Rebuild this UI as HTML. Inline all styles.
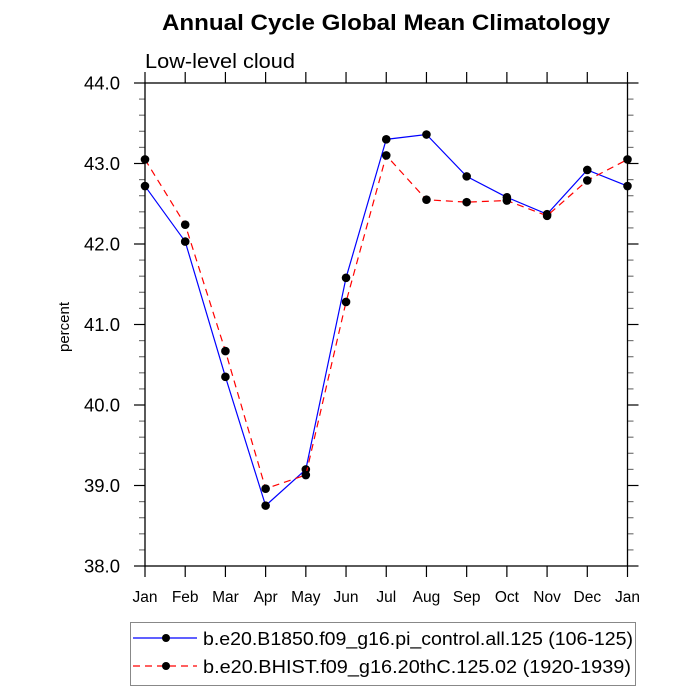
<!DOCTYPE html>
<html><head><meta charset="utf-8"><style>body{margin:0;background:#fff}svg{display:block}</style></head>
<body>
<svg id="chart" width="700" height="700" xmlns="http://www.w3.org/2000/svg" font-family="Liberation Sans, sans-serif">
<text x="162" y="30" font-size="22" font-weight="bold" textLength="448" lengthAdjust="spacingAndGlyphs">Annual Cycle Global Mean Climatology</text>
<text x="145" y="68" font-size="20" textLength="150" lengthAdjust="spacingAndGlyphs">Low-level cloud</text>
<text transform="translate(69,327) rotate(-90)" text-anchor="middle" font-size="15">percent</text>
<g id="ticks"></g>
<g id="series"></g>
<rect x="145" y="83" width="482.5" height="483" fill="none" stroke="#000" stroke-width="1.3"/>
<g>
<rect x="130.5" y="622.5" width="505" height="63" fill="none" stroke="#888" stroke-width="1"/>
<line x1="133" y1="638" x2="197" y2="638" stroke="#00f" stroke-width="1.2"/>
<circle cx="166" cy="638" r="4" fill="#000"/>
<text x="203" y="645" font-size="18" textLength="430" lengthAdjust="spacingAndGlyphs">b.e20.B1850.f09_g16.pi_control.all.125 (106-125)</text>
<line x1="133" y1="666" x2="197" y2="666" stroke="#f00" stroke-width="1.2" stroke-dasharray="7,5"/>
<circle cx="166" cy="666" r="4" fill="#000"/>
<text x="203" y="673" font-size="18" textLength="428" lengthAdjust="spacingAndGlyphs">b.e20.BHIST.f09_g16.20thC.125.02 (1920-1939)</text>
</g>
</svg>
<script>
const months = ["Jan","Feb","Mar","Apr","May","Jun","Jul","Aug","Sep","Oct","Nov","Dec","Jan"];
const yTicks = [38,39,40,41,42,43,44];
const yTickLabels = ["38.0","39.0","40.0","41.0","42.0","43.0","44.0"];
const blueValues = [42.72,42.03,40.35,38.75,39.2,41.58,43.3,43.36,42.84,42.58,42.37,42.92,42.72];
const redValues = [43.05,42.24,40.67,38.96,39.13,41.28,43.1,42.55,42.52,42.54,42.35,42.79,43.05];

const NS="http://www.w3.org/2000/svg";
const X0=145,X1=627.5,Y0=566,Y1=83,YMIN=38,YMAX=44;
function xs(i){return X0+(X1-X0)*i/(months.length-1);}
function ys(v){return Y0-(Y0-Y1)*(v-YMIN)/(YMAX-YMIN);}
function mk(tag,attrs,parent){const e=document.createElementNS(NS,tag);for(const k in attrs)e.setAttribute(k,attrs[k]);parent.appendChild(e);return e;}
const tg=document.getElementById('ticks');
months.forEach((m,i)=>{
  const x=xs(i);
  const t=mk('line',{x1:x,y1:Y0,x2:x,y2:Y0+11,stroke:'#000','stroke-width':1.2},tg);
  
  
  const t2=mk('line',{x1:x,y1:Y1,x2:x,y2:Y1-11,stroke:'#000','stroke-width':1.2},tg);
  
  
  const l=mk('text',{x:x,y:602,'text-anchor':'middle','font-size':15.5},tg);
  l.textContent=m;
  
  
});
for(let v=YMIN;v<=YMAX+1e-9;v+=0.2){
  const major=Math.abs(v-Math.round(v))<1e-6;
  const y=ys(v);const len=major?11:6;
  const a=mk('line',{x1:X0,y1:y,x2:X0-len,y2:y,stroke:major?'#000':'#777','stroke-width':1.2},tg);
  
  
  const b=mk('line',{x1:X1,y1:y,x2:X1+len,y2:y,stroke:major?'#000':'#777','stroke-width':1.2},tg);
  
  
}
yTicks.forEach((v,i)=>{
  const l=mk('text',{x:120,y:ys(v)+6.5,'text-anchor':'end','font-size':18.5},tg);
  l.textContent=yTickLabels[i];
  
  
});
const sg=document.getElementById('series');
function draw(vals,color,dash,name){
  const p=mk('polyline',{points:vals.map((v,i)=>xs(i)+','+ys(v)).join(' '),fill:'none',stroke:color,'stroke-width':1.2,'stroke-dasharray':dash},sg);
  
  
  vals.forEach((v,i)=>{
    const c=mk('circle',{cx:xs(i),cy:ys(v),r:4.3,fill:'#000'},sg);
    
    
  });
}
draw(blueValues,'#00f','none','b1850');
draw(redValues,'#f00','7,5','bhist');
</script>
</body></html>
